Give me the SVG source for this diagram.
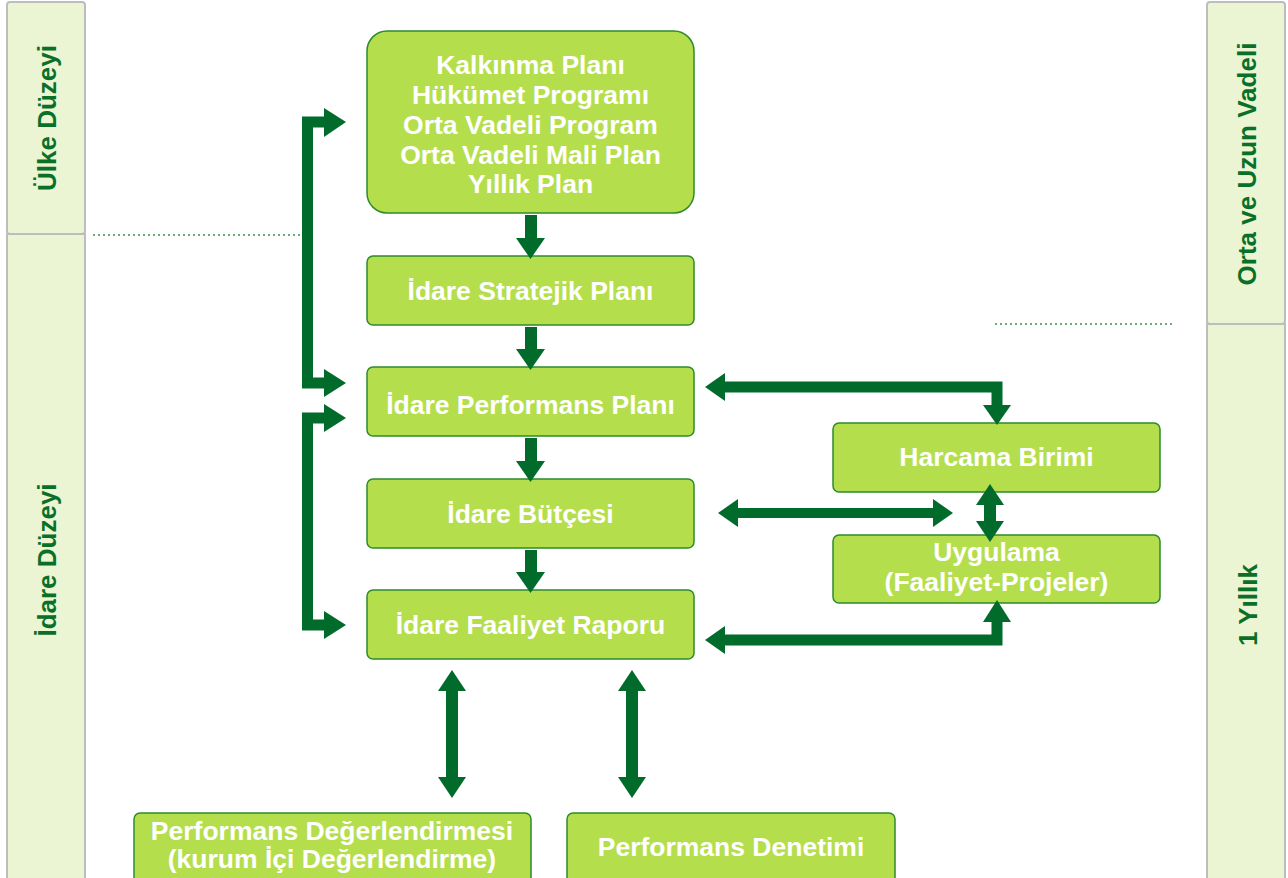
<svg xmlns="http://www.w3.org/2000/svg" width="1288" height="878" viewBox="0 0 1288 878">
<style>
.band{fill:#ebf5d3;stroke:#bdbdbd;stroke-width:2}
.bt{font-family:"Liberation Sans",Arial,sans-serif;font-weight:bold;font-size:26px;fill:#0a7028;text-anchor:middle}
.box{fill:#b5de4c;stroke:#2f8a2c;stroke-width:1.5}
.t{font-family:"Liberation Sans",Arial,sans-serif;font-weight:bold;font-size:26.5px;fill:#ffffff;text-anchor:middle}
.dot{stroke:#3d8f4d;stroke-width:1.5;stroke-dasharray:2 3;fill:none}
.ln{fill:none;stroke:#006b2a;stroke-width:11;stroke-linejoin:miter}
.hd{fill:#006b2a}
</style>
<rect width="1288" height="878" fill="#ffffff"/>
<g id="band-ulke">
<rect class="band" x="7" y="2" width="78" height="232" rx="3"/>
<text class="bt" transform="translate(56 118) rotate(-90)">Ülke Düzeyi</text>
</g>
<g id="band-idare">
<rect class="band" x="7" y="234" width="78" height="660"/>
<text class="bt" transform="translate(56 560) rotate(-90)">İdare Düzeyi</text>
</g>
<g id="band-orta">
<rect class="band" x="1207" y="2" width="78" height="322" rx="3"/>
<text class="bt" transform="translate(1256 164) rotate(-90)">Orta ve Uzun Vadeli</text>
</g>
<g id="band-yillik">
<rect class="band" x="1207" y="324" width="78" height="570"/>
<text class="bt" transform="translate(1257 605) rotate(-90)">1 Yıllık</text>
</g>
<line class="dot" x1="93" y1="235" x2="300" y2="235"/>
<line class="dot" x1="995" y1="324" x2="1173" y2="324"/>
<g id="n-plan">
<rect class="box" x="367" y="31" width="327" height="182" rx="20"/>
<text class="t" x="530.5" y="74">Kalkınma Planı</text>
<text class="t" x="530.5" y="104">Hükümet Programı</text>
<text class="t" x="530.5" y="134">Orta Vadeli Program</text>
<text class="t" x="530.5" y="164">Orta Vadeli Mali Plan</text>
<text class="t" x="530.5" y="193">Yıllık Plan</text>
</g>
<g id="n-stratejik">
<rect class="box" x="367" y="256" width="327" height="69" rx="6"/>
<text class="t" x="530.5" y="300">İdare Stratejik Planı</text>
</g>
<g id="n-performans">
<rect class="box" x="367" y="367" width="327" height="69" rx="6"/>
<text class="t" x="530.5" y="414">İdare Performans Planı</text>
</g>
<g id="n-butce">
<rect class="box" x="367" y="479" width="327" height="69" rx="6"/>
<text class="t" x="530.5" y="523">İdare Bütçesi</text>
</g>
<g id="n-faaliyet">
<rect class="box" x="367" y="590" width="327" height="69" rx="6"/>
<text class="t" x="530.5" y="634">İdare Faaliyet Raporu</text>
</g>
<g id="n-harcama">
<rect class="box" x="833" y="423" width="327" height="69" rx="6"/>
<text class="t" x="996.5" y="466">Harcama Birimi</text>
</g>
<g id="n-uygulama">
<rect class="box" x="833" y="535" width="327" height="68" rx="6"/>
<text class="t" x="996.5" y="561">Uygulama</text>
<text class="t" x="996.5" y="591">(Faaliyet-Projeler)</text>
</g>
<g id="n-degerlendirme">
<rect class="box" x="134" y="813" width="397" height="80" rx="6"/>
<text class="t" x="332" y="840">Performans Değerlendirmesi</text>
<text class="t" x="332" y="868">(kurum İçi Değerlendirme)</text>
</g>
<g id="n-denetim">
<rect class="box" x="567" y="813" width="328" height="80" rx="6"/>
<text class="t" x="731" y="856">Performans Denetimi</text>
</g>
<g id="connectors">
<rect class="hd" x="525" y="215" width="12" height="25"/><polygon class="hd" points="516,238 545,238 530.5,259"/>
<rect class="hd" x="525" y="327" width="12" height="24"/><polygon class="hd" points="516,349 545,349 530.5,370"/>
<rect class="hd" x="525" y="438" width="12" height="25"/><polygon class="hd" points="516,461 545,461 530.5,482"/>
<rect class="hd" x="525" y="550" width="12" height="24"/><polygon class="hd" points="516,572 545,572 530.5,593"/>
<path class="ln" d="M326 122 H307.5 V383 H326"/>
<polygon class="hd" points="324,108 346,122 324,137"/>
<polygon class="hd" points="324,369 346,383 324,397"/>
<path class="ln" d="M326 418 H307.5 V625 H326"/>
<polygon class="hd" points="324,404 346,418 324,432"/>
<polygon class="hd" points="324,611 346,625 324,639"/>
<path class="ln" d="M724 387 H997 V407" stroke-width="10"/>
<polygon class="hd" points="705,387 725,373 725,401"/>
<polygon class="hd" points="983,405 1011,405 997,425"/>
<rect class="hd" x="736" y="508" width="199" height="10"/>
<polygon class="hd" points="718,513 738,499 738,527"/>
<polygon class="hd" points="953,513 933,499 933,527"/>
<rect class="hd" x="984" y="503" width="12" height="20"/>
<polygon class="hd" points="990,484 976,505 1004,505"/>
<polygon class="hd" points="990,542 976,521 1004,521"/>
<path class="ln" d="M724 640 H997 V620" stroke-width="10"/>
<polygon class="hd" points="705,640 725,626 725,654"/>
<polygon class="hd" points="983,622 1011,622 997,600"/>
<rect class="hd" x="446" y="689" width="12" height="90"/>
<polygon class="hd" points="452,670 438,691 466,691"/>
<polygon class="hd" points="452,798 438,777 466,777"/>
<rect class="hd" x="626" y="689" width="12" height="90"/>
<polygon class="hd" points="632,670 618,691 646,691"/>
<polygon class="hd" points="632,798 618,777 646,777"/>
</g>
</svg>
